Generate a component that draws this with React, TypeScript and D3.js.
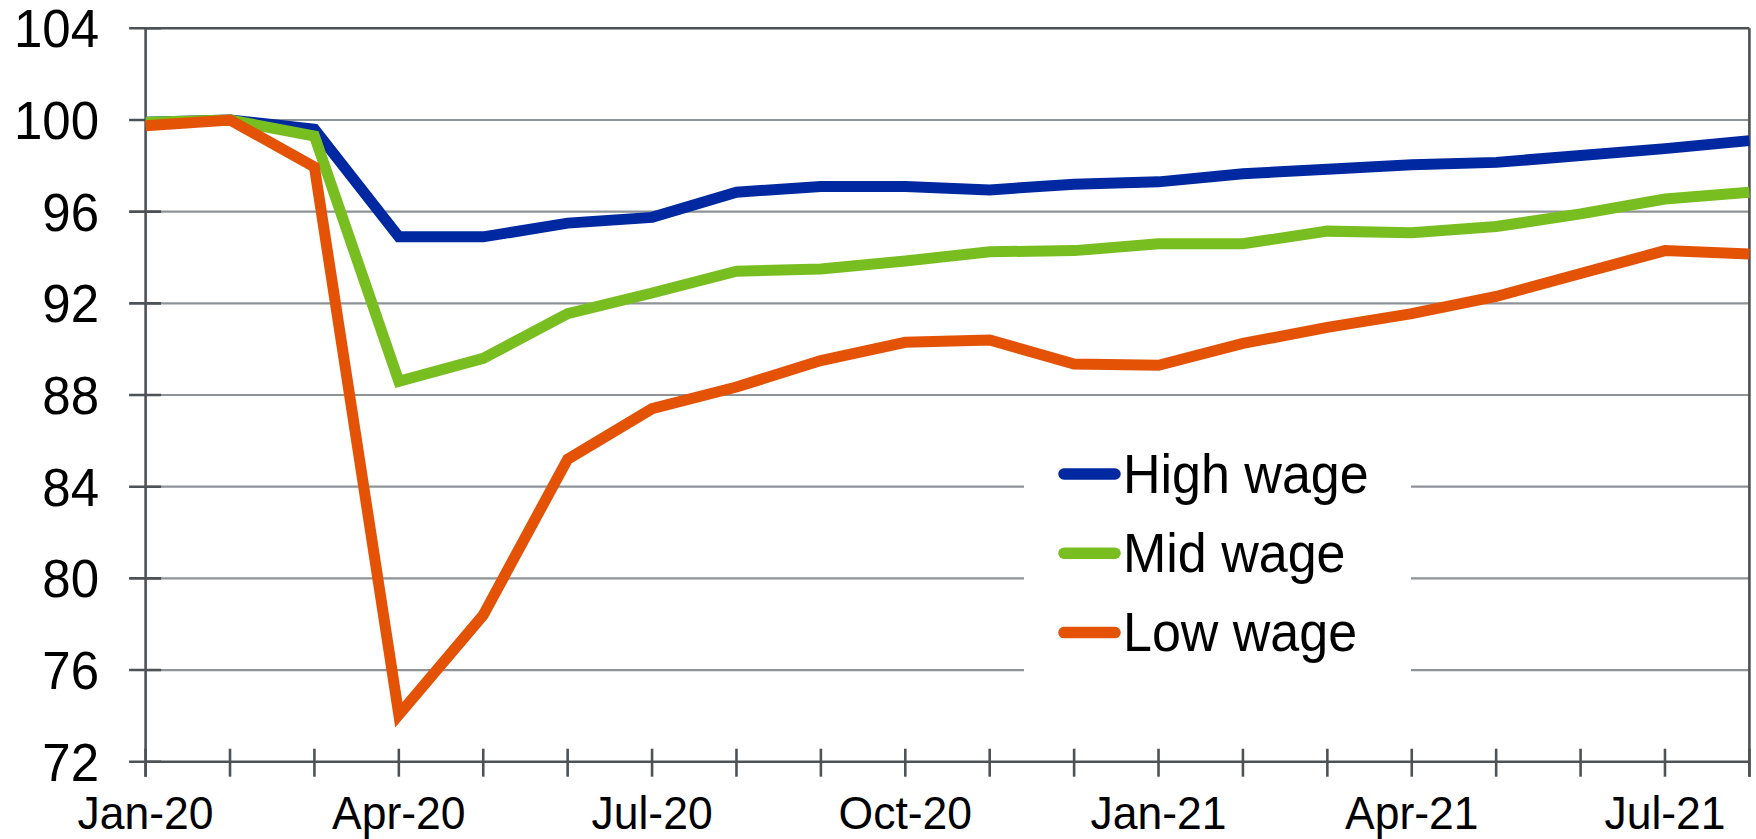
import React from "react";
import * as d3 from "d3";

const months = [
  "Jan-20", "Feb-20", "Mar-20", "Apr-20", "May-20", "Jun-20", "Jul-20", "Aug-20",
  "Sep-20", "Oct-20", "Nov-20", "Dec-20", "Jan-21", "Feb-21", "Mar-21", "Apr-21",
  "May-21", "Jun-21", "Jul-21", "Aug-21",
];
const highWage = [99.9, 100.0, 99.6, 94.9, 94.9, 95.5, 95.75, 96.85, 97.1, 97.1, 96.95, 97.2, 97.3, 97.65, 97.85, 98.05, 98.15, 98.45, 98.75, 99.1];
const midWage = [99.9, 100.0, 99.3, 88.6, 89.6, 91.55, 92.45, 93.4, 93.5, 93.85, 94.25, 94.3, 94.6, 94.6, 95.15, 95.08, 95.35, 95.9, 96.55, 96.85];
const lowWage = [99.75, 100.0, 97.95, 74.05, 78.4, 85.2, 87.4, 88.35, 89.5, 90.3, 90.4, 89.35, 89.3, 90.25, 90.95, 91.55, 92.3, 93.3, 94.3, 94.15];
const yTicks = [72, 76, 80, 84, 88, 92, 96, 100, 104];
const xLabels = ["Jan-20", "Apr-20", "Jul-20", "Oct-20", "Jan-21", "Apr-21", "Jul-21"];

const seriesNames = ["High wage", "Mid wage", "Low wage"];
const seriesColors = ["#0028A0", "#78BE20", "#E35205"];

export default function App() {
  const W = 1756, H = 839;
  const left = 145.6, right = 1749.4, top = 28.3, bottom = 761.7;
  const x = d3.scalePoint<string>().domain(months).range([left, right]);
  const y = d3.scaleLinear().domain([72, 104]).range([bottom, top]);
  const line = d3.line<number>().x((_, i) => x(months[i]) as number).y((d) => y(d)).curve(d3.curveLinear);
  const data = [highWage, midWage, lowWage];
  const axisColor = "#4d5257";
  const gridColor = "#8e9398";
  const font = "'Liberation Sans', Arial, Helvetica, sans-serif";
  const legendX = 1064;
  const legendY0 = 474;
  const legendStep = 79.3;
  const sy = 1.05;

  return (
    <svg width={W} height={H} style={{ position: "absolute", left: 0, top: 0, background: "#fff" }}>
      <rect x={0} y={0} width={W} height={H} fill="#fff" />
      {/* gridlines */}
      {yTicks.filter((t) => t !== 72 && t !== 104).map((t) => (
        <line key={"g" + t} x1={left} x2={right} y1={y(t)} y2={y(t)} stroke={gridColor} strokeWidth={2.2} />
      ))}
      {/* top and right border */}
      <line x1={left} x2={right} y1={y(104)} y2={y(104)} stroke={axisColor} strokeWidth={2.6} />
      <line x1={right} x2={right} y1={top} y2={bottom + 15} stroke={axisColor} strokeWidth={2.6} />
      {/* y axis */}
      <line x1={left} x2={left} y1={top} y2={bottom + 15} stroke={axisColor} strokeWidth={2.6} />
      {yTicks.map((t) => (
        <g key={"yt" + t}>
          <line x1={left - 16.5} x2={left + 15.5} y1={y(t)} y2={y(t)} stroke={axisColor} strokeWidth={2.6} />
          <g transform={`translate(99,${y(t) + 19}) scale(1,${sy})`}>
            <text x={0} y={0} textAnchor="end" fontFamily={font} fontSize={51} fill="#000">
              {t}
            </text>
          </g>
        </g>
      ))}
      {/* x axis */}
      <line x1={left} x2={right} y1={bottom} y2={bottom} stroke={axisColor} strokeWidth={2.6} />
      {months.map((m) => (
        <line key={"xt" + m} x1={x(m)} x2={x(m)} y1={bottom - 13} y2={bottom + 15} stroke={axisColor} strokeWidth={2.6} />
      ))}
      {xLabels.map((m) => (
        <g key={"xl" + m} transform={`translate(${x(m)},829) scale(1,${sy})`}>
          <text x={0} y={0} textAnchor="middle" fontFamily={font} fontSize={44.5} fill="#000">
            {m}
          </text>
        </g>
      ))}
      {/* series */}
      {data.map((d, i) => (
        <path key={"s" + i} d={line(d) || ""} fill="none" stroke={seriesColors[i]} strokeWidth={11} strokeLinejoin="miter" strokeLinecap="butt" />
      ))}
      {/* legend */}
      <rect x={1024} y={436} width={387} height={262} fill="#fff" />
      {seriesNames.map((n, i) => (
        <g key={"lg" + n}>
          <line x1={legendX} x2={legendX + 51} y1={legendY0 + i * legendStep} y2={legendY0 + i * legendStep} stroke={seriesColors[i]} strokeWidth={11.5} strokeLinecap="round" />
          <g transform={`translate(1123,${legendY0 + i * legendStep + 18.5}) scale(1,${sy})`}>
            <text x={0} y={0} fontFamily={font} fontSize={52} fill="#000">
              {n}
            </text>
          </g>
        </g>
      ))}
    </svg>
  );
}
